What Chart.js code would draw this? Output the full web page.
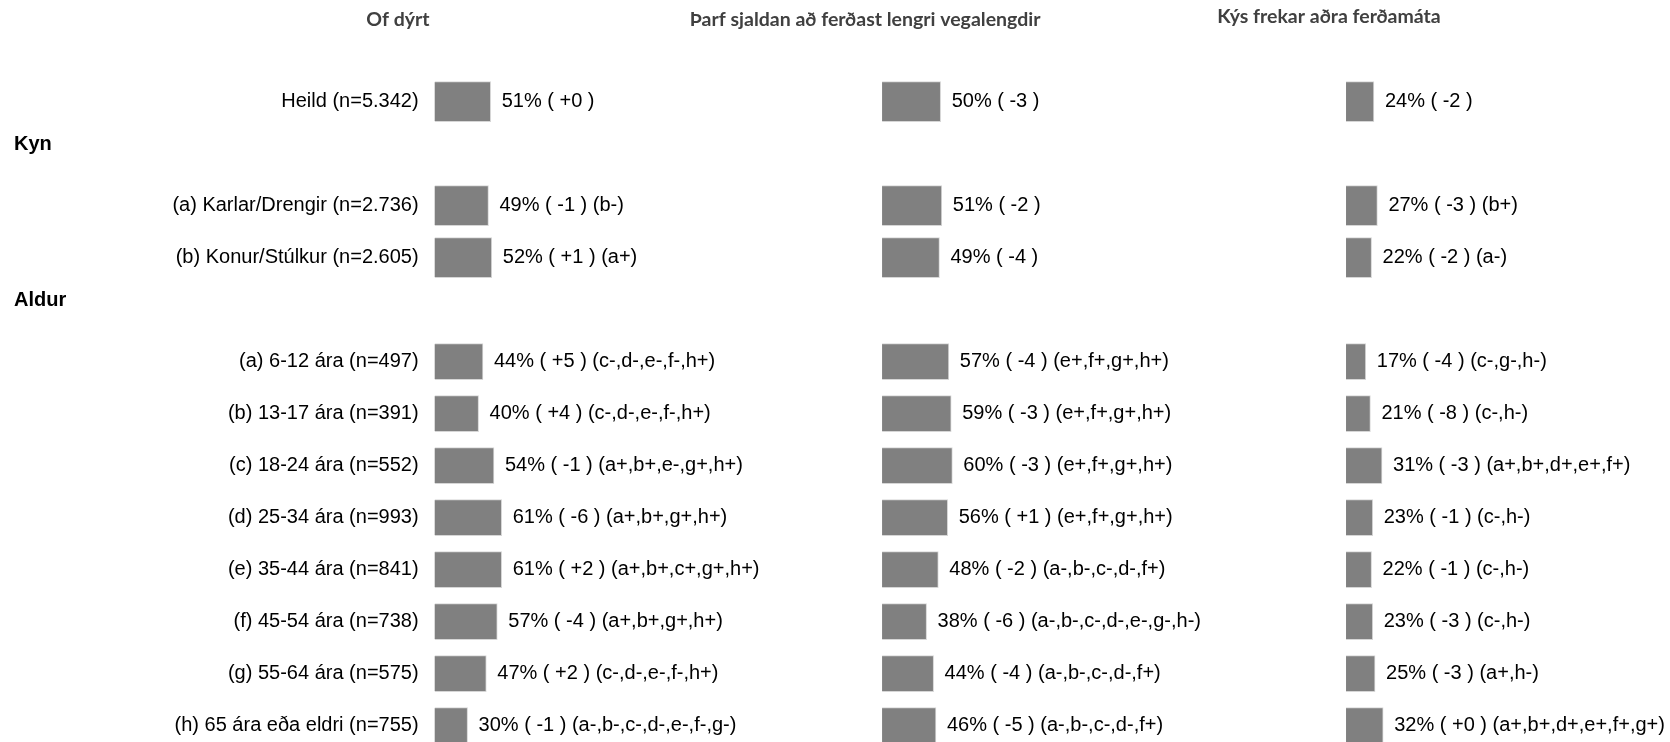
<!DOCTYPE html>
<html>
<head>
<meta charset="utf-8">
<script src="https://cdn.jsdelivr.net/npm/chart.js@4"></script>
<style>
  html, body { margin: 0; padding: 0; background: #fff; }
  #wrap { width: 1670px; height: 742px; }
</style>
</head>
<body>
<div id="wrap"><canvas id="chart" width="1670" height="742"></canvas></div>
<script>
// row labels ('' = heading rows)
const categories = [
  'Heild (n=5.342)',
  '',
  '(a) Karlar/Drengir (n=2.736)',
  '(b) Konur/Stúlkur (n=2.605)',
  '',
  '(a) 6-12 ára (n=497)',
  '(b) 13-17 ára (n=391)',
  '(c) 18-24 ára (n=552)',
  '(d) 25-34 ára (n=993)',
  '(e) 35-44 ára (n=841)',
  '(f) 45-54 ára (n=738)',
  '(g) 55-64 ára (n=575)',
  '(h) 65 ára eða eldri (n=755)'
];
const rowGroup = ['top', null, 'top', 'top', null, 'age', 'age', 'age', 'age', 'age', 'age', 'age', 'age'];
const groupHeadings = [{ row: 1, text: 'Kyn' }, { row: 4, text: 'Aldur' }];

const titles = ['Of dýrt', 'Þarf sjaldan að ferðast lengri vegalengdir', 'Kýs frekar aðra ferðamáta'];

const ofDyrt       = [51, null, 49, 52, null, 44, 40, 54, 61, 61, 57, 47, 30];
const ofDyrtChange = ['+0', null, '-1', '+1', null, '+5', '+4', '-1', '-6', '+2', '-4', '+2', '-1'];
const ofDyrtSig    = ['', null, 'b-', 'a+', null, 'c-,d-,e-,f-,h+', 'c-,d-,e-,f-,h+', 'a+,b+,e-,g+,h+',
                      'a+,b+,g+,h+', 'a+,b+,c+,g+,h+', 'a+,b+,g+,h+', 'c-,d-,e-,f-,h+', 'a-,b-,c-,d-,e-,f-,g-'];

const sjaldan       = [50, null, 51, 49, null, 57, 59, 60, 56, 48, 38, 44, 46];
const sjaldanChange = ['-3', null, '-2', '-4', null, '-4', '-3', '-3', '+1', '-2', '-6', '-4', '-5'];
const sjaldanSig    = ['', null, '', '', null, 'e+,f+,g+,h+', 'e+,f+,g+,h+', 'e+,f+,g+,h+', 'e+,f+,g+,h+',
                       'a-,b-,c-,d-,f+', 'a-,b-,c-,d-,e-,g-,h-', 'a-,b-,c-,d-,f+', 'a-,b-,c-,d-,f+'];

const annad       = [24, null, 27, 22, null, 17, 21, 31, 23, 22, 23, 25, 32];
const annadChange = ['-2', null, '-3', '-2', null, '-4', '-8', '-3', '-1', '-1', '-3', '-3', '+0'];
const annadSig    = ['', null, 'b+', 'a-', null, 'c-,g-,h-', 'c-,h-', 'a+,b+,d+,e+,f+', 'c-,h-',
                     'c-,h-', 'c-,h-', 'a+,h-', 'a+,b+,d+,e+,f+,g+'];

const panels = [
  { values: ofDyrt, change: ofDyrtChange, sig: ofDyrtSig },
  { values: sjaldan, change: sjaldanChange, sig: sjaldanSig },
  { values: annad, change: annadChange, sig: annadSig }
];

// layout of the three columns (width weight and scale max)
const colWeights = [447.5, 464, 324];
const colMax = [407, 396, 279];
const titleShift = [-36.6, -17, -17];
const titleY = [19, 19, 16];

const FONT = '"Liberation Sans", Arial, sans-serif';

const datasets = [];
panels.forEach((p, i) => {
  ['top', 'age'].forEach(g => {
    datasets.push({
      label: titles[i],
      data: p.values.map((v, r) => rowGroup[r] === g ? v : null),
      xAxisID: 'x' + i,
      barThickness: g === 'top' ? 40 : 36,
      grouped: false,
      clip: false,
      backgroundColor: '#808080',
      borderColor: '#d6d6d6',
      borderWidth: 1,
      change: p.change,
      sig: p.sig
    });
  });
});

const scales = {
  y: {
    type: 'category',
    offset: false,
    afterFit: (scale) => {
      scale.width = 434.6;
      scale.paddingTop = 0;
      scale.paddingBottom = 0;
    },
    grid: { display: false, drawTicks: false },
    border: { display: false },
    ticks: { color: '#000', padding: 16, font: { family: FONT, size: 20 } }
  }
};
colWeights.forEach((w, i) => {
  scales['x' + i] = {
    type: 'linear',
    position: 'bottom',
    stack: 'cols',
    stackWeight: w,
    min: 0,
    max: colMax[i],
    display: false
  };
});

const extraText = {
  id: 'extraText',
  afterDatasetsDraw(chart) {
    const ctx = chart.ctx;
    ctx.save();
    ctx.textBaseline = 'middle';
    ctx.textAlign = 'left';
    ctx.fillStyle = '#000';
    ctx.font = '20px ' + FONT;
    chart.data.datasets.forEach((ds, i) => {
      chart.getDatasetMeta(i).data.forEach((bar, r) => {
        const v = ds.data[r];
        if (v == null) return;
        let txt = v + '% ( ' + ds.change[r] + ' )';
        if (ds.sig[r]) txt += ' (' + ds.sig[r] + ')';
        ctx.fillText(txt, bar.x + 11, bar.y);
      });
    });

    ctx.font = 'bold 20px ' + FONT;
    groupHeadings.forEach(h => {
      ctx.fillText(h.text, 14, chart.scales.y.getPixelForValue(h.row) - 9.5);
    });

    ctx.textAlign = 'center';
    ctx.fillStyle = '#404040';
    ctx.font = 'bold 19.5px Lato, "Open Sans", sans-serif';
    titles.forEach((t, i) => {
      ctx.fillText(t, chart.scales['x' + i].left + titleShift[i], titleY[i] + 1);
    });
    ctx.restore();
  }
};

new Chart(document.getElementById('chart'), {
  type: 'bar',
  data: { labels: categories, datasets },
  options: {
    indexAxis: 'y',
    responsive: false,
    animation: false,
    layout: { padding: { top: 101.7, bottom: 16.3, left: 0, right: 0 } },
    plugins: { legend: { display: false }, tooltip: { enabled: false } },
    scales
  },
  plugins: [extraText]
});
</script>
</body>
</html>
